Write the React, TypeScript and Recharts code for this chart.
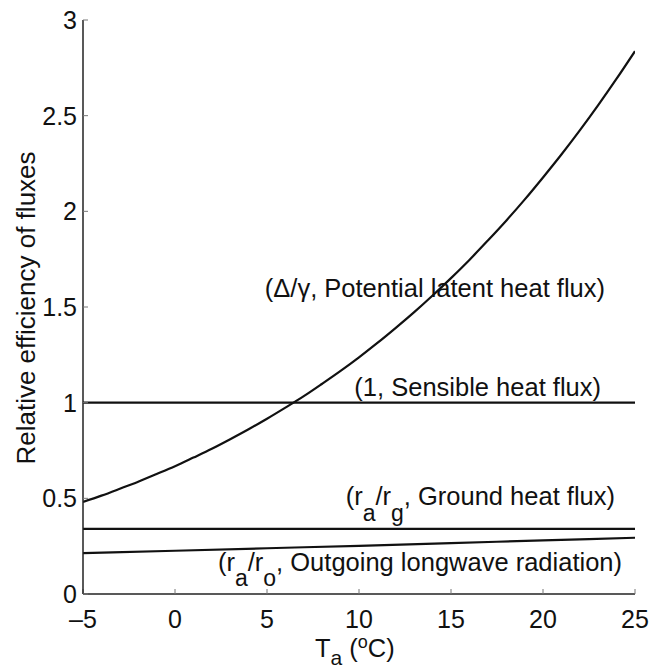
import { LineChart, Line, XAxis, YAxis } from 'recharts';

// temperatures (deg C) and relative efficiency values
const temps = [-5, -4, -3, -2, -1, 0, 1, 2, 3, 4, 5, 6, 7, 8, 9, 10, 11, 12, 13, 14, 15, 16, 17, 18, 19, 20, 21, 22, 23, 24, 25];
const latent = [0.481, 0.514, 0.55, 0.587, 0.627, 0.668, 0.713, 0.759, 0.809, 0.861, 0.916, 0.974, 1.034, 1.099, 1.166, 1.237, 1.312, 1.391, 1.473, 1.56, 1.651, 1.746, 1.847, 1.951, 2.061, 2.177, 2.297, 2.423, 2.555, 2.693, 2.837];

const endTemps = [-5, 25];
const sensible = [1, 1];
const ground = [0.34, 0.34];

const lwTemps = [-5, 0, 5, 10, 15, 20, 25];
const longwave = [0.214, 0.226, 0.239, 0.252, 0.266, 0.28, 0.294];

const xTicks = [-5, 0, 5, 10, 15, 20, 25];
const yTicks = [0, 0.5, 1, 1.5, 2, 2.5, 3];

const toRows = (xs: number[], ys: number[]) => xs.map((t, i) => ({ t, v: ys[i] }));

const font = '"Liberation Sans", Arial, Helvetica, sans-serif';
const axisColor = '#222';
const tickStyle = { fontSize: 25, fill: '#111', fontFamily: font };

export default function App() {
  return (
    <div style={{ position: 'absolute', left: 0, top: 0, background: '#fff' }}>
      <LineChart
        width={650}
        height={672}
        margin={{ top: 20, right: 15, bottom: 48, left: 23 }}
        style={{ fontFamily: font }}
      >
        <XAxis
          dataKey="t"
          type="number"
          domain={[-5, 25]}
          ticks={xTicks}
          allowDataOverflow
          height={30}
          tickSize={-5}
          tickMargin={21}
          tick={tickStyle}
          tickFormatter={(v: number) => String(v).replace('-', '\u2013')}
          axisLine={{ stroke: axisColor, strokeWidth: 1.5 }}
          tickLine={{ stroke: '#777', strokeWidth: 1 }}
        />
        <XAxis
          xAxisId="top"
          orientation="top"
          type="number"
          domain={[-5, 25]}
          ticks={xTicks}
          allowDataOverflow
          height={0}
          tickSize={-5}
          tick={false}
          axisLine={{ stroke: axisColor, strokeWidth: 1.5 }}
          tickLine={{ stroke: '#777', strokeWidth: 1 }}
        />
        <YAxis
          type="number"
          domain={[0, 3]}
          ticks={yTicks}
          allowDataOverflow
          width={60}
          tickSize={-5}
          tickMargin={11}
          tick={tickStyle}
          axisLine={{ stroke: axisColor, strokeWidth: 1.5 }}
          tickLine={{ stroke: '#777', strokeWidth: 1 }}
        />
        <YAxis
          yAxisId="right"
          orientation="right"
          type="number"
          domain={[0, 3]}
          ticks={yTicks}
          allowDataOverflow
          width={0}
          tickSize={-5}
          tick={false}
          axisLine={{ stroke: axisColor, strokeWidth: 1.5 }}
          tickLine={{ stroke: '#777', strokeWidth: 1 }}
        />
        <Line data={toRows(temps, latent)} dataKey="v" type="monotone" stroke="#111" strokeWidth={2.2} dot={false} isAnimationActive={false} />
        <Line data={toRows(endTemps, sensible)} dataKey="v" type="linear" stroke="#111" strokeWidth={2.2} dot={false} isAnimationActive={false} />
        <Line data={toRows(endTemps, ground)} dataKey="v" type="linear" stroke="#111" strokeWidth={2.2} dot={false} isAnimationActive={false} />
        <Line data={toRows(lwTemps, longwave)} dataKey="v" type="monotone" stroke="#111" strokeWidth={2.2} dot={false} isAnimationActive={false} />

        <g fontFamily={font} fontSize={25.5} fill="#111">
          <text x={605} y={297} textAnchor="end">(Δ/γ, Potential latent heat flux)</text>
          <text x={601} y={396} textAnchor="end">(1, Sensible heat flux)</text>
          <text x={615} y={505} textAnchor="end">
            (r<tspan dy={16} fontSize={23}>a</tspan>
            <tspan dy={-16}>/r</tspan>
            <tspan dy={16} fontSize={23}>g</tspan>
            <tspan dy={-16}>, Ground heat flux)</tspan>
          </text>
          <text x={622} y={571} textAnchor="end">
            (r<tspan dy={15} fontSize={23}>a</tspan>
            <tspan dy={-15}>/r</tspan>
            <tspan dy={15} fontSize={23}>o</tspan>
            <tspan dy={-15}>, Outgoing longwave radiation)</tspan>
          </text>
          <text x={315} y={657}>
            T<tspan dy={8} fontSize={21}>a</tspan>
            <tspan dy={-8}> (</tspan>
            <tspan dy={-9} fontSize={18}>o</tspan>
            <tspan dy={9}>C)</tspan>
          </text>
          <text x={35} y={308} textAnchor="middle" fontSize={26} transform="rotate(-90, 35, 308)">
            Relative efficiency of fluxes
          </text>
        </g>
      </LineChart>
    </div>
  );
}
